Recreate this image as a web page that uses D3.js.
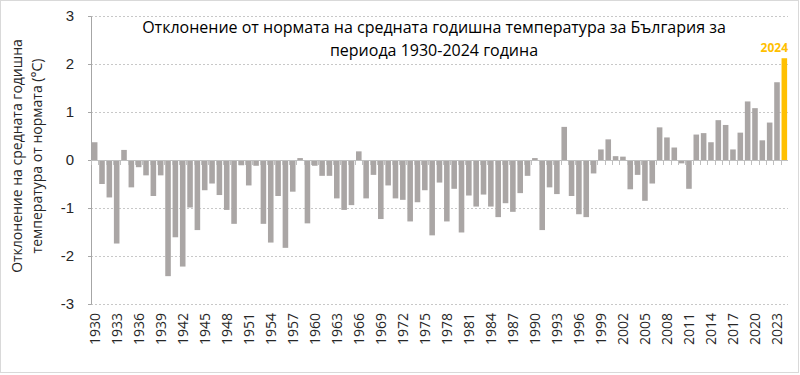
<!DOCTYPE html>
<html>
<head>
<meta charset="utf-8">
<script src="https://cdn.jsdelivr.net/npm/d3@7"></script>
<style>
  body { margin: 0; background: #fff; }
  svg { display: block; font-family: "Open Sans", "Noto Sans", sans-serif; }
</style>
</head>
<body>
<div id="chart"></div>
<script>
// years 1930..2024, deviations
const years = d3.range(1930, 2025);
const anomalies = [
  0.37, -0.50, -0.78, -1.74, 0.21, -0.57, -0.15, -0.32, -0.75, -0.32,
  -2.42, -1.61, -2.22, -0.99, -1.46, -0.63, -0.49, -0.73, -1.04, -1.33,
  -0.11, -0.53, -0.12, -1.33, -1.72, -0.75, -1.83, -0.66, 0.04, -1.32,
  -0.12, -0.33, -0.33, -0.80, -1.04, -0.94, 0.18, -0.80, -0.31, -1.23,
  -0.53, -0.80, -0.83, -1.28, -0.88, -0.63, -1.57, -0.47, -1.28, -0.60,
  -1.51, -0.74, -0.97, -0.72, -0.97, -1.19, -0.90, -1.08, -0.69, -0.33,
  0.04, -1.46, -0.57, -0.71, 0.69, -0.75, -1.13, -1.19, -0.28, 0.22,
  0.43, 0.08, 0.07, -0.61, -0.31, -0.85, -0.49, 0.68, 0.47, 0.26,
  -0.07, -0.60, 0.53, 0.56, 0.37, 0.83, 0.73, 0.22, 0.57, 1.22,
  1.08, 0.41, 0.78, 1.62, 2.12
];
const yTicks = [-3, -2, -1, 0, 1, 2, 3];
const titleLines = [
  "Отклонение от нормата на средната годишна температура за България за",
  "периода 1930-2024 година"
];
const yTitleLines = ["Отклонение на средната годишна", "температура от нормата (°C)"];
const highlightYear = 2024;

const width = 800, height = 375;
const margin = { top: 16, right: 12, bottom: 71, left: 91 };

const svg = d3.select("#chart").append("svg")
  .attr("width", width)
  .attr("height", height);

// outer frame
svg.append("rect")
  .attr("x", 0.5).attr("y", 0.5)
  .attr("width", width - 2).attr("height", height - 3)
  .attr("fill", "none")
  .attr("stroke", "#d9d9d9");

const x = d3.scaleBand()
  .domain(years)
  .range([margin.left, width - margin.right])
  .paddingInner(0.24)
  .paddingOuter(0.12);

const y = d3.scaleLinear()
  .domain([-3, 3])
  .range([height - margin.bottom, margin.top]);

// dotted gridlines
svg.append("g")
  .selectAll("line")
  .data(yTicks)
  .join("line")
  .attr("x1", margin.left)
  .attr("x2", width - margin.right)
  .attr("y1", d => y(d) + 0.5)
  .attr("y2", d => y(d) + 0.5)
  .attr("stroke", "#c8c8c8")
  .attr("stroke-dasharray", "2,2");

// y axis
const yAxis = svg.append("g")
  .attr("transform", `translate(${margin.left},0)`)
  .call(d3.axisLeft(y).tickValues(yTicks).tickSize(3).tickPadding(14).tickFormat(d3.format("d")));
yAxis.select(".domain").attr("stroke", "#a6a6a6");
yAxis.selectAll(".tick line").attr("stroke", "#a6a6a6");
yAxis.selectAll("text")
  .attr("font-size", 15)
  .attr("fill", "#262626")
  .text(d => d < 0 ? "-" + Math.abs(d) : d);

// bars
svg.append("g")
  .selectAll("rect")
  .data(years.map((yr, i) => ({ year: yr, value: anomalies[i] })))
  .join("rect")
  .attr("x", d => x(d.year))
  .attr("width", x.bandwidth())
  .attr("y", d => y(Math.max(0, d.value)))
  .attr("height", d => Math.abs(y(d.value) - y(0)))
  .attr("fill", d => d.year === highlightYear ? "#ffc000" : "#aaa6a5");

// zero axis with small ticks between categories
svg.append("line")
  .attr("x1", margin.left).attr("x2", width - margin.right)
  .attr("y1", y(0) + 0.5).attr("y2", y(0) + 0.5)
  .attr("stroke", "#bfbfbf");
svg.append("g")
  .selectAll("line")
  .data(years)
  .join("line")
  .attr("x1", d => Math.round(x(d) - x.bandwidth() * 0.16) + 0.5)
  .attr("x2", d => Math.round(x(d) - x.bandwidth() * 0.16) + 0.5)
  .attr("y1", y(0))
  .attr("y2", y(0) + 5)
  .attr("stroke", "#bfbfbf");

// year labels at the bottom, every 3 years
svg.append("g")
  .selectAll("text")
  .data(years.filter(d => (d - 1930) % 3 === 0))
  .join("text")
  .attr("transform", d => `translate(${x(d) + x.bandwidth() / 2 + 5},${y(-3) + 9}) rotate(-90)`)
  .attr("text-anchor", "end")
  .attr("font-size", 14)
  .attr("fill", "#262626")
  .text(d => d);

// highlight label
svg.append("text")
  .attr("x", x(highlightYear) + x.bandwidth() / 2 - 10)
  .attr("y", y(anomalies[anomalies.length - 1]) - 6)
  .attr("text-anchor", "middle")
  .attr("font-size", 12)
  .attr("font-weight", 700)
  .attr("fill", "#ffc000")
  .text(highlightYear);

// title
svg.append("g")
  .selectAll("text")
  .data(titleLines)
  .join("text")
  .attr("x", 434)
  .attr("y", (d, i) => 33 + i * 23)
  .attr("text-anchor", "middle")
  .attr("font-size", 16)
  .attr("fill", "#000")
  .text(d => d);

// y axis title
svg.append("g")
  .selectAll("text")
  .data(yTitleLines)
  .join("text")
  .attr("transform", (d, i) => `translate(${22 + i * 20},156) rotate(-90)`)
  .attr("text-anchor", "middle")
  .attr("font-size", 14)
  .attr("fill", "#262626")
  .text(d => d);
</script>
</body>
</html>
